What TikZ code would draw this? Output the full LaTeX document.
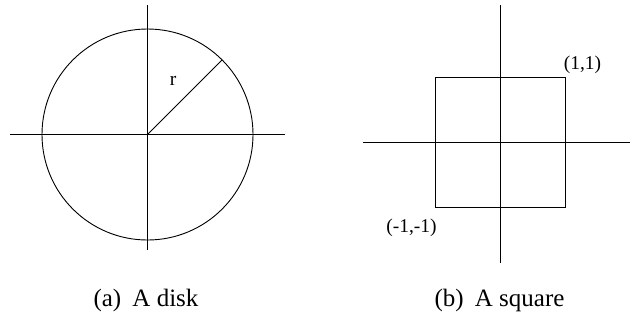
\documentclass[tikz,border=0pt]{standalone}
\usepackage{fontspec}
\setmainfont{Liberation Serif}
\usetikzlibrary{calc}
\begin{document}
\begin{tikzpicture}[x=1pt,y=-1pt,
  ln/.style={line width=0.9pt,black},
  lbl/.style={font=\fontsize{19.5}{22}\selectfont,inner sep=0pt},
  captxt/.style={font=\fontsize{25}{28}\selectfont,inner sep=0pt}]
\useasboundingbox (0,0) rectangle (631,322);
% disk
\coordinate (o1) at (147.5,134.5);
\coordinate (vt1) at (147.5,5);
\coordinate (vb1) at (147.5,250);
\coordinate (hl1) at (10,134.5);
\coordinate (hr1) at (285,134.5);
\draw[ln] (vt1) -- (vb1);
\draw[ln] (hl1) -- (hr1);
\draw[ln] (o1) circle[radius=105.5];
\coordinate (rend) at ($(o1)+(74.6,-74.6)$);
\draw[ln] (o1) -- (rend);
\node[lbl] (r) at (173,81) {r};
% square
\coordinate (o2) at (500.5,142.5);
\coordinate (vt2) at (500.5,5);
\coordinate (vb2) at (500.5,263);
\coordinate (hl2) at (363,142.5);
\coordinate (hr2) at (630,142.5);
\draw[ln] (vt2) -- (vb2);
\draw[ln] (hl2) -- (hr2);
\coordinate (sq1) at (435.7,77.7);
\coordinate (sq2) at (565,207.3);
\draw[ln] (sq1) rectangle (sq2);
\node[lbl] (p11) at (582.5,65.3) {(1,1)};
\node[lbl] (pm11) at (411.5,228) {(-1,-1)};
% captions
\node[captxt] (ca) at (146,300) {(a)\hspace{0.45em}A disk};
\node[captxt] (cb) at (499.5,300) {(b)\hspace{0.45em}A square};
\end{tikzpicture}
\end{document}
